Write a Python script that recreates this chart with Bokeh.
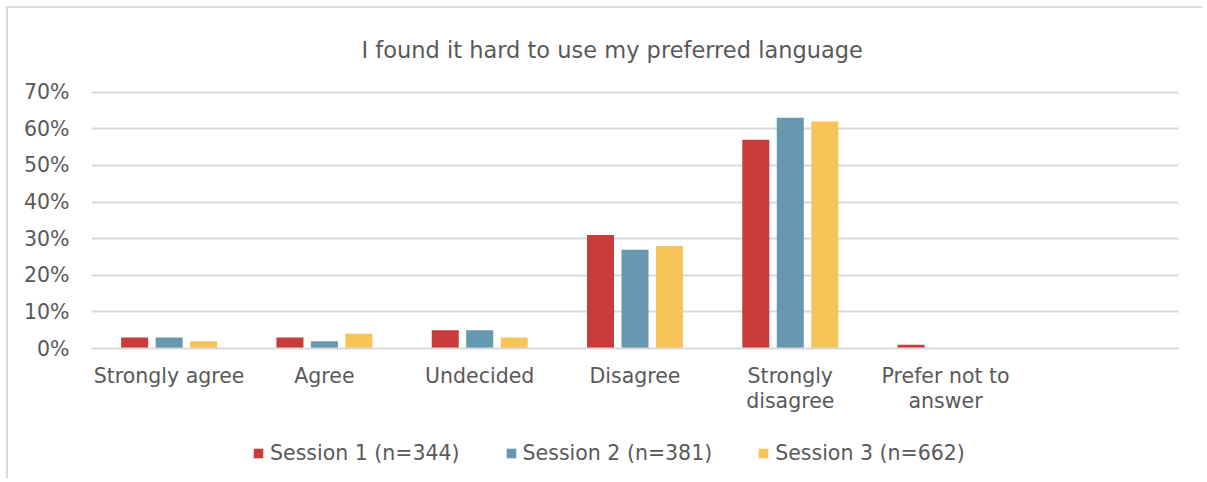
from bokeh.plotting import figure
from bokeh.layouts import column
from bokeh.models import (ColumnDataSource, FactorRange, Range1d, Legend, LegendItem,
                          PrintfTickFormatter, FixedTicker)
from bokeh.transform import dodge
from bokeh.embed import file_html
from bokeh.resources import INLINE

# ---- data ----
categories = ["Strongly agree", "Agree", "Undecided", "Disagree",
              "Strongly\ndisagree", "Prefer not to\nanswer"]
session1 = [3, 3, 5, 31, 57, 1]
session2 = [3, 2, 5, 27, 63, 0]
session3 = [2, 4, 3, 28, 62, 0]
series_names = ["Session 1 (n=344)", "Session 2 (n=381)", "Session 3 (n=662)"]
y_ticks = [0, 10, 20, 30, 40, 50, 60, 70]
title_text = "I found it hard to use my preferred language"

colors = ["#C73B3B", "#6699B0", "#F6C457"]
FONT = "DejaVu Sans"
TXT = "#595959"
GRID = "#D9D9D9"

factors = categories + [" "]
src = ColumnDataSource(dict(cat=categories, s1=session1, s2=session2, s3=session3))
cols = ["s1", "s2", "s3"]

p = figure(frame_width=1087, frame_height=260, x_range=FactorRange(*factors, range_padding=0),
           y_range=Range1d(0, 71), output_backend="svg", toolbar_location=None,
           min_border_left=83, min_border_right=24, min_border_top=74, min_border_bottom=80)
p.outline_line_color = None
p.background_fill_color = "white"
p.border_fill_color = "white"

p.title.text = title_text
p.title.align = "left"
p.title.text_font = FONT
p.title.text_font_size = "22.5px"
p.title.text_font_style = "normal"
p.title.text_color = TXT
p.title.standoff = 52
p.title.offset = 270

offsets = [-0.222, 0.0, 0.222]
for col, off, c in zip(cols, offsets, colors):
    p.vbar(x=dodge("cat", off, range=p.x_range), top=col, width=0.174,
           source=src, fill_color=c, line_color=None)

p.yaxis.ticker = FixedTicker(ticks=y_ticks)
p.yaxis.formatter = PrintfTickFormatter(format="%d%%")
p.yaxis.axis_line_color = None
p.yaxis.major_tick_line_color = None
p.yaxis.minor_tick_line_color = None
p.yaxis.major_label_text_font = FONT
p.yaxis.major_label_text_font_size = "20.5px"
p.yaxis.major_label_text_color = TXT
p.yaxis.major_label_standoff = 16

p.xaxis.axis_line_color = GRID
p.xaxis.axis_line_width = 2
p.xaxis.major_tick_line_color = None
p.xaxis.minor_tick_line_color = None
p.xaxis.major_label_text_font = FONT
p.xaxis.major_label_text_font_size = "20.5px"
p.xaxis.major_label_text_line_height = 1.05
p.xaxis.major_label_text_color = TXT
p.xaxis.major_label_standoff = 9
p.xaxis.major_label_orientation = "horizontal"

p.xgrid.grid_line_color = None
p.ygrid.grid_line_color = GRID
p.ygrid.grid_line_width = 2
p.ygrid.ticker = FixedTicker(ticks=y_ticks)

# ---- legend strip (separate figure so the legend can sit under the axis labels) ----
lf = figure(width=1194, height=50, x_range=FactorRange(*factors), y_range=Range1d(0, 1),
            output_backend="svg", toolbar_location=None, x_axis_type=None, y_axis_type=None,
            min_border=0)
lf.outline_line_color = None
lf.xgrid.visible = False
lf.ygrid.visible = False
lrend = []
for col, c in zip(cols, colors):
    lrend.append(lf.vbar(x="cat", top=col, width=0.0, source=src, fill_color=c,
                         line_color=None, fill_alpha=1.0))
for r in lrend:
    r.glyph.top = 0
legend = Legend(items=[LegendItem(label=n, renderers=[r]) for n, r in zip(series_names, lrend)],
                orientation="horizontal", location=(161, 13))
legend.label_text_font = FONT
legend.label_text_font_size = "20.5px"
legend.label_text_color = TXT
legend.glyph_width = 12
legend.glyph_height = 12
legend.label_standoff = 6
legend.spacing = 45
legend.border_line_color = None
legend.background_fill_alpha = 0
legend.padding = 0
legend.margin = 0
lf.add_layout(legend, "center")

layout = column(p, lf, spacing=0,
                styles={"margin-top": "6px", "margin-left": "6px",
                        "border-top": "2px solid #D9D9D9", "border-left": "2px solid #D9D9D9"})

open("out.html", "w").write(file_html(layout, INLINE))
